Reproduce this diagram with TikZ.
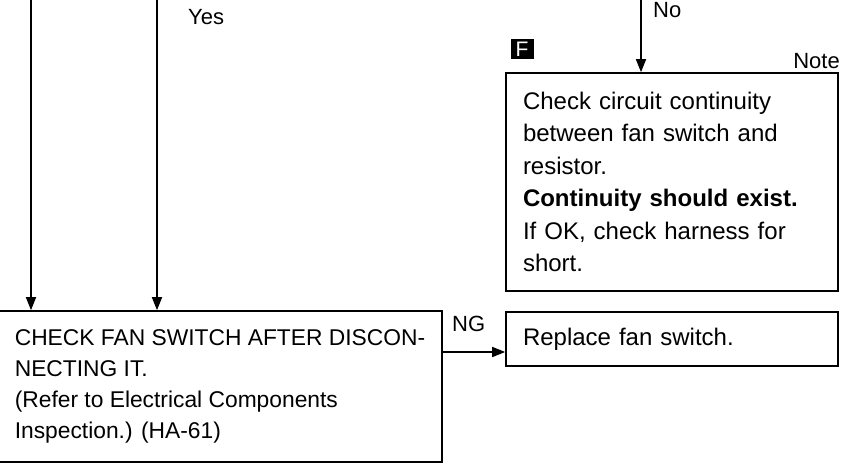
\documentclass[tikz,border=0pt]{standalone}
\usepackage{fontspec}
\setmainfont{Liberation Sans}
\usetikzlibrary{arrows.meta}
\tikzset{
  ln/.style={line width=1.6pt},
  arr/.style={ln,-{Triangle[length=13pt,width=10pt]}},
  box/.style={draw,ln,align=left,inner xsep=0pt,inner ysep=0pt,font=\fontsize{24}{32.5}\selectfont},
  lbl/.style={font=\fontsize{22}{24}\selectfont,inner sep=0pt,anchor=base west},
}
\begin{document}
\begin{tikzpicture}[x=1pt,y=-1pt]
\useasboundingbox (0,0) rectangle (849,465);
\node[box,minimum width=444pt,minimum height=151pt,font=\fontsize{22.8}{31}\selectfont] (chk) at (220,386.5)
 {CHECK FAN SWITCH AFTER DISCON-\\NECTING IT.\\(Refer to Electrical Components\\Inspection.) (HA-61)};
\node[box,minimum width=332pt,minimum height=218pt,text width=298pt] (cont) at (672,182)
 {Check circuit continuity\\between fan switch and\\resistor.\\\textbf{Continuity should exist.}\\If OK, check harness for\\short.};
\node[box,minimum width=332pt,minimum height=54pt,text width=298pt] (rep) at (672,339) {Replace fan switch.};
\coordinate (t1) at (31,-2);
\coordinate (t2) at (157,-2);
\coordinate (t3) at (641,-2);
\coordinate (ng) at (442,352);
\draw[arr] (t1) -- (t1 |- chk.north);
\draw[arr] (t2) -- (t2 |- chk.north);
\draw[arr] (t3) -- (t3 |- cont.north);
\draw[arr] (ng) -- (ng -| rep.west);
\node[lbl] (yes) at (188,25) {Yes};
\node[lbl] (no) at (653,18) {No};
\node[lbl] (ngl) at (452,331) {NG};
\node[lbl,anchor=base east] (note) at (840,69) {Note};
\node[fill=black,text=white,inner sep=0pt,minimum width=23pt,minimum height=20pt,font=\fontsize{21}{21}\selectfont] (f) at (522,49) {F};
\end{tikzpicture}
\end{document}
